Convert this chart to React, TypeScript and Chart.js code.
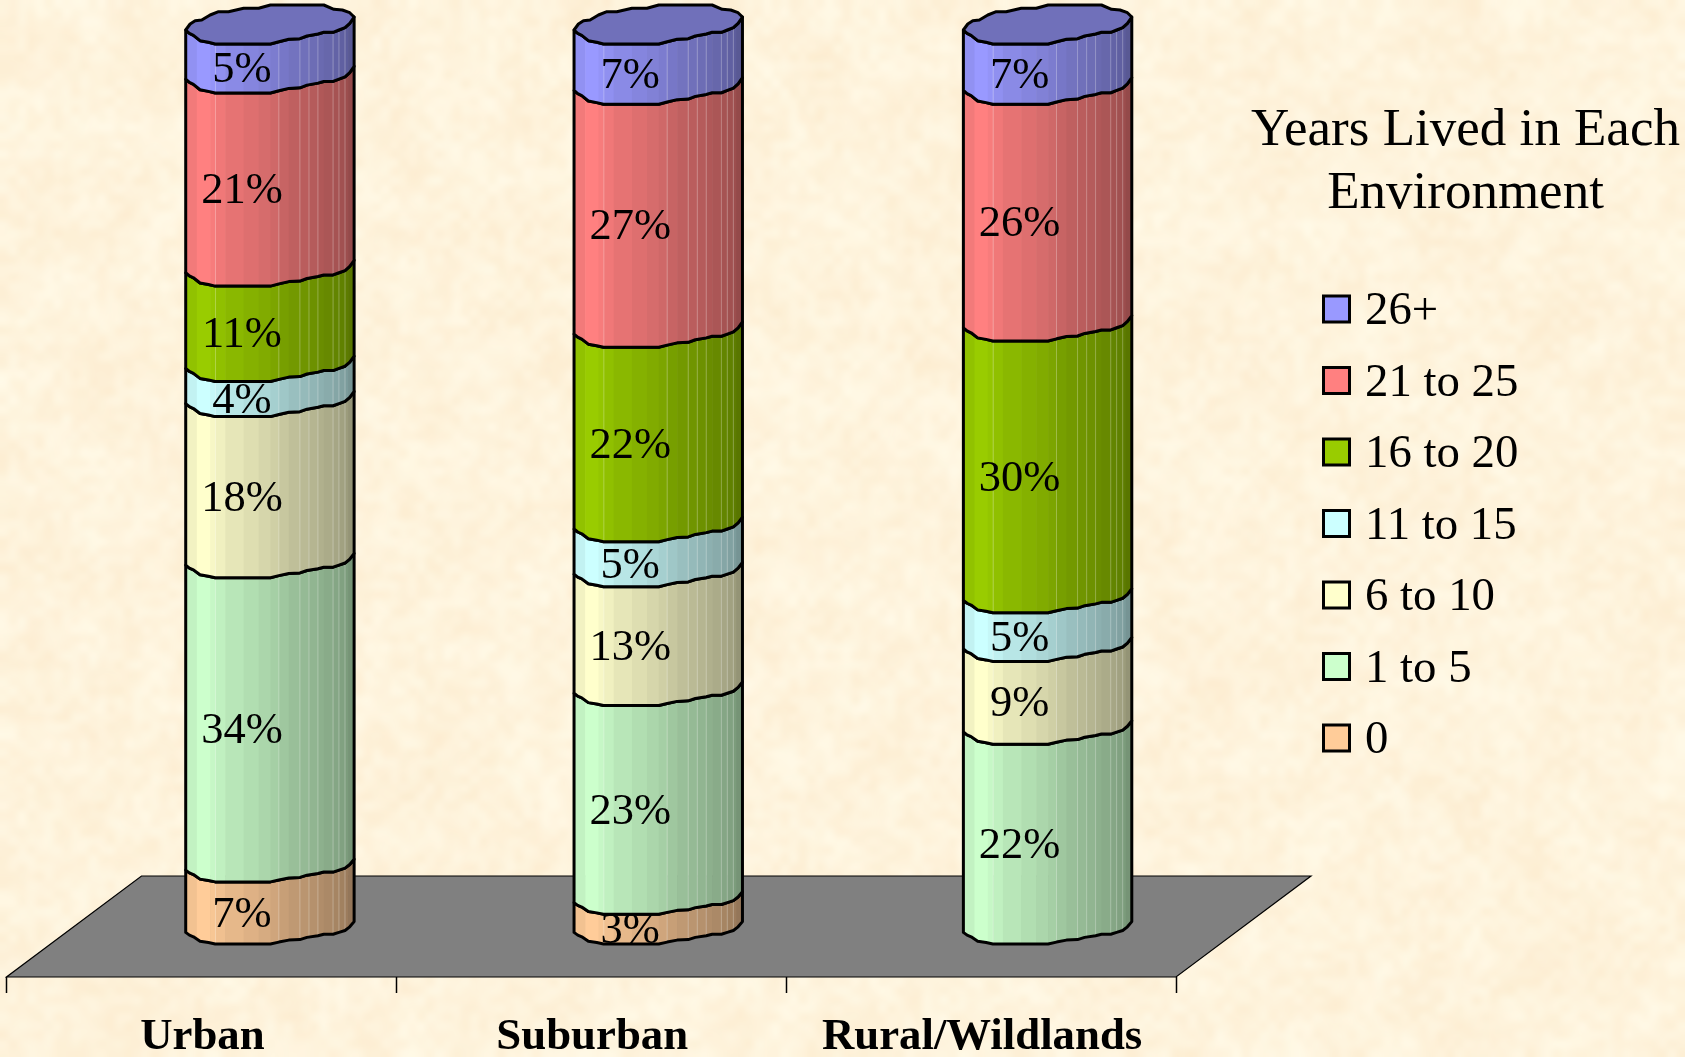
import React, { useEffect, useRef } from "react";
import { Chart, registerables } from "chart.js";

Chart.register(...registerables);

const categories = ["Urban", "Suburban", "Rural/Wildlands"];
const years0 = [6.9, 3.3, 0];
const years1to5 = [33.8, 23.2, 22.2];
const years6to10 = [17.9, 13.2, 9.2];
const years11to15 = [3.9, 5, 5.4];
const years16to20 = [10.6, 21.6, 30.2];
const years21to25 = [21.45, 27, 26.3];
const years26plus = [5.45, 6.7, 6.7];
const seriesLabels = ["0", "1 to 5", "6 to 10", "11 to 15", "16 to 20", "21 to 25", "26+"];
const seriesColors = ["#FFCC99", "#CCFFCC", "#FFFFCC", "#CCFFFF", "#99CC00", "#FF8080", "#9999FF"];
const legendTitle = ["Years Lived in Each", "Environment"];

const SERIF = '"Liberation Serif", "Times New Roman", serif';
const DEPTH_X = 135;
const DEPTH_Y = 101;
const FRONT_LIFT = 33;
const CYL_SHIFTS = [68.5, 67, 66.5];

// Outline of the cylinder's faceted rim: fraction across the width, offset from the lowest point
const FRONT_EDGE: [number, number][] = [
  [0, -14], [0.022, -10.7], [0.046, -8.7], [0.085, -3.3], [0.135, -1.7], [0.175, 0], [0.503, 0],
  [0.553, -2.3], [0.612, -4.7], [0.678, -5.3], [0.72, -8], [0.785, -10], [0.82, -11.7], [0.875, -11.7],
  [0.91, -14], [0.946, -16.3], [0.974, -20.7], [1, -27],
];
const BACK_EDGE: [number, number][] = [
  [0, -14], [0.026, -20], [0.056, -23.3], [0.095, -24], [0.145, -29], [0.195, -32.3], [0.254, -32.3],
  [0.344, -35.7], [0.433, -35.7], [0.503, -39], [0.82, -39], [0.88, -34.7], [0.93, -34], [0.974, -31.3], [1, -27],
];
// Facets of the side: [right edge, brightness]
const FACETS: [number, number][] = [
  [0.066, 0.95], [0.145, 1], [0.177, 0.97], [0.235, 0.94], [0.344, 0.9], [0.433, 0.87],
  [0.503, 0.84], [0.553, 0.81], [0.612, 0.78], [0.678, 0.75], [0.732, 0.73], [0.785, 0.71],
  [0.82, 0.69], [0.875, 0.67], [0.91, 0.65], [0.946, 0.63], [0.964, 0.61], [1, 0.58],
];
const FACET_LINES = [0.177, 0.553, 0.678, 0.732, 0.785, 0.875, 0.91, 0.946];

function shade(hex: string, k: number) {
  const n = parseInt(hex.slice(1), 16);
  const r = Math.round(((n >> 16) & 255) * k);
  const g = Math.round(((n >> 8) & 255) * k);
  const b = Math.round((n & 255) * k);
  return `rgb(${r},${g},${b})`;
}

function noiseLayer(w: number, h: number, seed: number, amp: number) {
  const c = document.createElement("canvas");
  c.width = w;
  c.height = h;
  const g = c.getContext("2d")!;
  const img = g.createImageData(w, h);
  for (let y = 0; y < h; y++) {
    for (let x = 0; x < w; x++) {
      const s = Math.sin((x + seed) * 127.1 + (y - seed) * 311.7) * 43758.5453;
      const v = (s - Math.floor(s) - 0.5) * amp;
      const i = (y * w + x) * 4;
      img.data[i] = 254 + Math.min(1, v * 0.25);
      img.data[i + 1] = 243 + v;
      img.data[i + 2] = 220 + v * 1.7;
      img.data[i + 3] = 255;
    }
  }
  g.putImageData(img, 0, 0);
  return c;
}

function traceEdge(ctx: CanvasRenderingContext2D, edge: [number, number][], left: number, w: number, y: number, reverse = false, move = false) {
  const pts = reverse ? [...edge].reverse() : edge;
  const k = 1 - (0.17 * (y - 44)) / 900;
  pts.forEach(([u, dy], i) => {
    if (i === 0 && move) ctx.moveTo(left + u * w, y + dy * k);
    else ctx.lineTo(left + u * w, y + dy * k);
  });
}

const cylinderPlugin = {
  id: "cylinders",
  beforeDraw(chart: any) {
    const { ctx, width, height } = chart;
    ctx.save();
    ctx.imageSmoothingEnabled = true;
    ctx.imageSmoothingQuality = "high";
    ctx.drawImage(noiseLayer(60, 38, 3, 13), 0, 0, width, height);
    ctx.globalAlpha = 0.5;
    ctx.drawImage(noiseLayer(190, 120, 11, 15), 0, 0, width, height);
    ctx.restore();
  },
  beforeDatasetsDraw(chart: any) {
    const { ctx, chartArea: a, data } = chart;
    ctx.save();
    // floor of the 3D box
    ctx.beginPath();
    ctx.moveTo(a.left, a.bottom);
    ctx.lineTo(a.right, a.bottom);
    ctx.lineTo(a.right + DEPTH_X, a.bottom - DEPTH_Y);
    ctx.lineTo(a.left + DEPTH_X, a.bottom - DEPTH_Y);
    ctx.closePath();
    ctx.fillStyle = "#808080";
    ctx.fill();
    ctx.strokeStyle = "#000";
    ctx.lineWidth = 1.2;
    ctx.stroke();

    const labels: { text: string; x: number; y: number }[] = [];
    ctx.lineJoin = "round";
    data.labels.forEach((_: string, j: number) => {
      let topY = 0, topColor = "", topLeft = 0, topW = 0;
      data.datasets.forEach((ds: any, i: number) => {
        const el = chart.getDatasetMeta(i).data[j];
        if (!ds.data[j]) return;
        const w = el.width;
        const left = el.x + CYL_SHIFTS[j] - w / 2;
        const yTop = el.y - FRONT_LIFT;
        const yBot = el.base - FRONT_LIFT;
        const path = () => {
          ctx.beginPath();
          traceEdge(ctx, FRONT_EDGE, left, w, yTop, false, true);
          traceEdge(ctx, FRONT_EDGE, left, w, yBot, true);
          ctx.closePath();
        };
        ctx.save();
        path();
        ctx.clip();
        let prev = 0;
        FACETS.forEach(([end, k]) => {
          ctx.fillStyle = shade(ds.backgroundColor, k);
          ctx.fillRect(left + prev * w, yTop - 60, (end - prev) * w + 0.6, yBot - yTop + 70);
          prev = end;
        });
        ctx.strokeStyle = "rgba(255,255,255,0.28)";
        ctx.lineWidth = 1;
        FACET_LINES.forEach((u) => {
          ctx.beginPath();
          ctx.moveTo(left + u * w, yTop - 60);
          ctx.lineTo(left + u * w, yBot + 10);
          ctx.stroke();
        });
        ctx.restore();
        path();
        ctx.strokeStyle = "#000";
        ctx.lineWidth = 3;
        ctx.stroke();
        labels.push({ text: `${Math.round(ds.data[j])}%`, x: left + w / 2 - 28, y: (yTop + yBot) / 2 });
        topY = yTop; topColor = ds.backgroundColor; topLeft = left; topW = w;
      });
      // top cap of the cylinder
      ctx.beginPath();
      traceEdge(ctx, BACK_EDGE, topLeft, topW, topY, false, true);
      traceEdge(ctx, FRONT_EDGE, topLeft, topW, topY, true);
      ctx.closePath();
      ctx.fillStyle = shade(topColor, 0.73);
      ctx.fill();
      ctx.strokeStyle = "#000";
      ctx.lineWidth = 3;
      ctx.stroke();
    });
    ctx.fillStyle = "#000";
    ctx.font = `44.5px ${SERIF}`;
    ctx.textAlign = "center";
    ctx.textBaseline = "middle";
    labels.forEach((l) => ctx.fillText(l.text, l.x, l.y + 2));
    ctx.restore();
    return false;
  },
  afterDraw(chart: any) {
    const { ctx, data } = chart;
    ctx.save();
    ctx.fillStyle = "#000";
    ctx.textBaseline = "alphabetic";
    ctx.textAlign = "center";
    ctx.font = `53px ${SERIF}`;
    legendTitle.forEach((t, i) => ctx.fillText(t, 1465.5, 145 + i * 63));
    ctx.textAlign = "left";
    ctx.font = `46.8px ${SERIF}`;
    const n = data.datasets.length;
    data.datasets.forEach((ds: any, i: number) => {
      const y = 309 + (n - 1 - i) * 71.5;
      ctx.fillStyle = ds.backgroundColor;
      ctx.strokeStyle = "#000";
      ctx.lineWidth = 3;
      ctx.fillRect(1323.5, y - 13, 26, 26);
      ctx.strokeRect(1323.5, y - 13, 26, 26);
      ctx.fillStyle = "#000";
      ctx.fillText(ds.label, 1365, y + 15);
    });
    ctx.restore();
  },
};

export default function App() {
  const ref = useRef<HTMLCanvasElement | null>(null);
  useEffect(() => {
    document.body.style.margin = "0";
    document.body.style.overflow = "hidden";
    const seriesValues = [years0, years1to5, years6to10, years11to15, years16to20, years21to25, years26plus];
    const chart = new Chart(ref.current!, {
      type: "bar",
      data: {
        labels: categories,
        datasets: seriesValues.map((values, i) => ({
          label: seriesLabels[i],
          data: values,
          backgroundColor: seriesColors[i],
          barPercentage: 0.432,
          categoryPercentage: 1,
        })),
      },
      options: {
        responsive: false,
        animation: false,
        devicePixelRatio: 1,
        layout: { padding: { left: 6.5, right: 509, top: 77, bottom: 0 } },
        plugins: { legend: { display: false }, tooltip: { enabled: false }, title: { display: false } },
        scales: {
          x: {
            stacked: true,
            border: { display: false },
            grid: { drawOnChartArea: false, drawTicks: true, tickLength: 16, tickColor: "#000", tickWidth: 1.5 },
            ticks: {
              color: "#000",
              font: { family: SERIF, size: 44.8, weight: "bold" },
              padding: 18,
              labelOffset: 1,
              autoSkip: false,
              maxRotation: 0,
            },
            afterFit: (s: any) => { s.height = 80; },
          },
          y: { stacked: true, display: false, min: 0, max: 100 },
        },
      },
      plugins: [cylinderPlugin],
    } as any);
    return () => chart.destroy();
  }, []);
  return <canvas ref={ref} width={1685} height={1057} />;
}
